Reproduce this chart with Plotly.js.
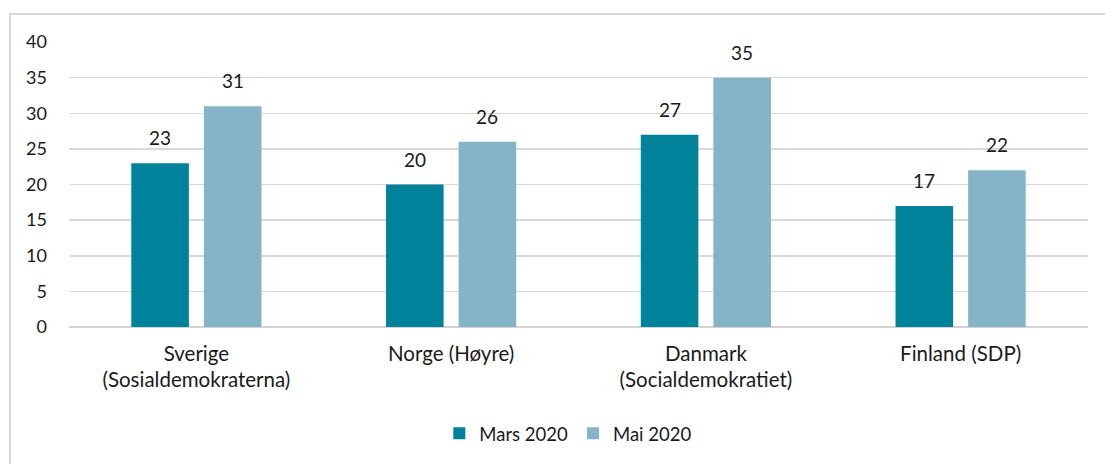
<!DOCTYPE html>
<html>
<head>
<meta charset="utf-8">
<script src="https://cdn.plot.ly/plotly-3.0.1.min.js"></script>
<style>
  html, body { margin: 0; padding: 0; background: #fff; }
  #wrap { position: relative; width: 1105px; height: 464px; overflow: hidden; }
  #frame { position: absolute; left: 9px; top: 13px; width: 1110px; height: 470px; border: 2px solid #d9d9d9; box-sizing: border-box; pointer-events: none; }
  #chart { position: absolute; left: 0; top: 0; width: 1105px; height: 464px; }
</style>
</head>
<body>
<div id="wrap">
  <div id="chart"></div>
  <div id="frame"></div>
</div>
<script>
const categories = ["Sverige<br>(Sosialdemokraterna)", "Norge (Høyre)", "Danmark<br>(Socialdemokratiet)", "Finland (SDP)"];
const seriesNames = ["Mars 2020", "Mai 2020"];
const mars2020 = [23, 20, 27, 17];
const mai2020 = [31, 26, 35, 22];
const colors = ["#00829B", "#85B4C8"];
const yTicks = [0, 5, 10, 15, 20, 25, 30, 35, 40];

const font = "Source Sans Pro, Lato, Noto Sans, sans-serif";
const textColor = "#1a1a1a";

const traces = [mars2020, mai2020].map((vals, i) => ({
  type: "bar",
  name: seriesNames[i],
  x: categories,
  y: vals,
  marker: { color: colors[i] },
  offsetgroup: String(i),
  hoverinfo: "none"
}));

// data labels as annotations, placed with the axis scale
const annotations = [];
const nGroups = 2;
const groupWidth = 1 - 0.43;
[mars2020, mai2020].forEach((vals, i) => {
  vals.forEach((v, j) => {
    const off = (i - (nGroups - 1) / 2) * groupWidth / nGroups;
    annotations.push({
      x: j + off, y: v, xref: "x", yref: "y",
      text: String(v), showarrow: false,
      yanchor: "bottom", yshift: 12,
      font: { family: font, size: 19, color: textColor }
    });
  });
});

const layout = {
  width: 1105, height: 464,
  margin: { l: 69, r: 17, t: 42, b: 136 },
  paper_bgcolor: "rgba(0,0,0,0)",
  plot_bgcolor: "#fff",
  font: { family: font, size: 18, color: textColor },
  barmode: "group",
  bargap: 0.43,
  bargroupgap: 0.207,
  showlegend: true,
  legend: {
    orientation: "h", x: 0.49, xanchor: "center", y: -0.37, yanchor: "middle",
    font: { family: font, size: 18.5, color: textColor },
    itemwidth: 30, traceorder: "normal"
  },
  xaxis: {
    type: "category",
    tickvals: categories.map((_, i) => i),
    ticktext: categories,
    range: [-0.5, categories.length - 0.5],
    showgrid: false, zeroline: false,
    showline: false, ticks: "",
    tickfont: { family: font, size: 20.5, color: textColor },
    ticklabelstandoff: 12
  },
  yaxis: {
    range: [0, 40],
    tickvals: yTicks,
    ticktext: yTicks.map(String),
    showgrid: true, gridcolor: "#d9d9d9", gridwidth: 1.5,
    zeroline: true, zerolinecolor: "#d4d4d4", zerolinewidth: 2,
    showline: false, ticks: "",
    tickfont: { family: font, size: 18, color: textColor },
    ticklabelstandoff: 21
  },
  annotations: annotations
};

Plotly.newPlot("chart", traces, layout, { staticPlot: true, displayModeBar: false });
</script>
</body>
</html>
